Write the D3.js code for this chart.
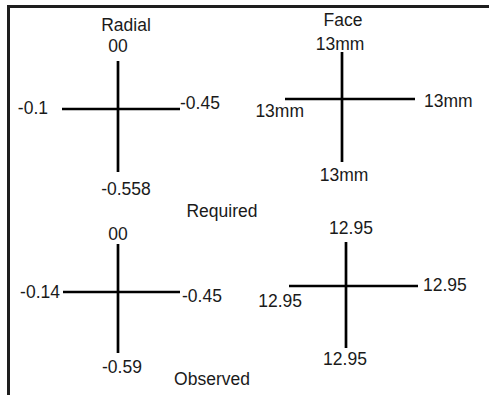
<!DOCTYPE html>
<html>
<head>
<meta charset="utf-8">
<script src="https://cdn.jsdelivr.net/npm/d3@7"></script>
<style>
  body { margin: 0; background: #fff; }
  text { font-family: "Liberation Sans", Arial, sans-serif; font-size: 17.5px; fill: #1a1a1a; }
</style>
</head>
<body>
<div id="chart"></div>
<script>
// Data
const columnTitles = ["Radial", "Face"];
const rowTitles = ["Required", "Observed"];
// label order: top, left, right, bottom
const radialRequired = ["00", "-0.1", "-0.45", "-0.558"];
const faceRequired = ["13mm", "13mm", "13mm", "13mm"];
const radialObserved = ["00", "-0.14", "-0.45", "-0.59"];
const faceObserved = ["12.95", "12.95", "12.95", "12.95"];

function draw() {
  const dimensions = { width: 489, height: 395 };

  const svg = d3
    .select("#chart")
    .append("svg")
    .attr("width", dimensions.width)
    .attr("height", dimensions.height);

  // Frame (top and left edges only)
  svg.append("path")
    .attr("d", `M8.5,${dimensions.height} V6.5 H${dimensions.width}`)
    .attr("fill", "none")
    .attr("stroke", "#1e1e1e")
    .attr("stroke-width", 3);

  // Layout of the four crosses: centre, arm lengths, label offsets
  const crosses = [
    { labels: radialRequired, cx: 118, cy: 109, up: 48, down: 63, left: 56, right: 62,
      lab: { top: [0, -57], left: [-70, 5], right: [62, 0], bottom: [8, 86] } },
    { labels: faceRequired, cx: 342, cy: 99, up: 47, down: 63, left: 57, right: 73,
      lab: { top: [-2, -49], left: [-38, 18], right: [82, 8], bottom: [2, 82] } },
    { labels: radialObserved, cx: 118, cy: 292, up: 48, down: 61, left: 55, right: 62,
      lab: { top: [0, -52], left: [-58, 6], right: [64, 10], bottom: [4, 81] } },
    { labels: faceObserved, cx: 346, cy: 286, up: 44, down: 62, left: 57, right: 72,
      lab: { top: [5, -52], left: [-44, 21], right: [77, 5], bottom: [-1, 79] } },
  ];

  const spots = [
    { key: "top", anchor: "middle" },
    { key: "left", anchor: "end" },
    { key: "right", anchor: "start" },
    { key: "bottom", anchor: "middle" },
  ];

  crosses.forEach((c) => {
    const x = d3.scaleLinear().domain([-1, 0, 1]).range([c.cx - c.left, c.cx, c.cx + c.right]);
    const y = d3.scaleLinear().domain([-1, 0, 1]).range([c.cy + c.down, c.cy, c.cy - c.up]);
    const g = svg.append("g");

    g.append("line")
      .attr("x1", x(-1)).attr("x2", x(1))
      .attr("y1", y(0)).attr("y2", y(0))
      .attr("stroke", "#000").attr("stroke-width", 2.7);
    g.append("line")
      .attr("x1", x(0)).attr("x2", x(0))
      .attr("y1", y(1)).attr("y2", y(-1))
      .attr("stroke", "#000").attr("stroke-width", 2.7);

    spots.forEach((s, i) => {
      g.append("text")
        .attr("x", c.cx + c.lab[s.key][0])
        .attr("y", c.cy + c.lab[s.key][1])
        .attr("text-anchor", s.anchor)
        .text(c.labels[i]);
    });
  });

  // Titles
  const colX = [126, 343];
  svg.selectAll(".col-title")
    .data(columnTitles)
    .join("text")
    .attr("class", "col-title")
    .attr("x", (d, i) => colX[i])
    .attr("y", (d, i) => [31, 26][i])
    .attr("text-anchor", "middle")
    .text((d) => d);

  svg.selectAll(".row-title")
    .data(rowTitles)
    .join("text")
    .attr("class", "row-title")
    .attr("x", (d, i) => [222, 212][i])
    .attr("y", (d, i) => [217, 385][i])
    .attr("text-anchor", "middle")
    .text((d) => d);
}

draw();
</script>
</body>
</html>
